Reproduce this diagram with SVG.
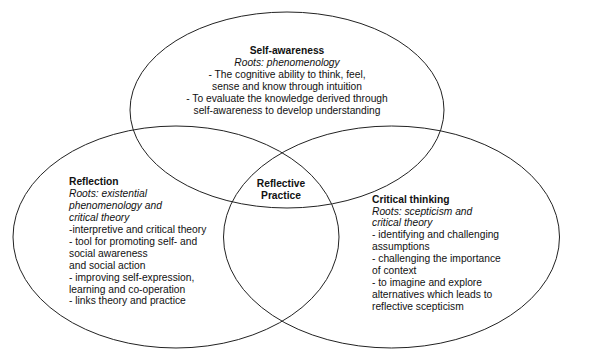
<svg xmlns="http://www.w3.org/2000/svg" width="596" height="358" viewBox="0 0 596 358">
<style>
.c{fill:none;stroke:#222;stroke-width:1}
text{font-family:"Liberation Sans",Arial,sans-serif;font-size:10.25px;fill:#111}
.b{font-weight:bold}
.i{font-style:italic}
.m{text-anchor:middle}
</style>
<rect width="596" height="358" fill="#fff"/>
<g id="self-awareness">
<ellipse class="c" cx="287" cy="110" rx="157" ry="98"/>
<text class="m" x="287" y="54"><tspan class="b">Self-awareness</tspan><tspan class="i" x="287" y="66">Roots: phenomenology</tspan><tspan x="287" y="78">- The cognitive ability to think, feel,</tspan><tspan x="287" y="90">sense and know through intuition</tspan><tspan x="287" y="102">- To evaluate the knowledge derived through</tspan><tspan x="287" y="114">self-awareness to develop understanding</tspan></text>
</g>
<g id="reflection">
<ellipse class="c" cx="176" cy="237" rx="163" ry="111"/>
<text x="69" y="185"><tspan class="b">Reflection</tspan><tspan class="i" x="69" y="197">Roots: existential</tspan><tspan class="i" x="69" y="209">phenomenology and</tspan><tspan class="i" x="69" y="221">critical theory</tspan><tspan x="69" y="233">-interpretive and critical theory</tspan><tspan x="69" y="245">- tool for promoting self- and</tspan><tspan x="69" y="257">social awareness</tspan><tspan x="69" y="269">and social action</tspan><tspan x="69" y="281">- improving self-expression,</tspan><tspan x="69" y="293">learning and co-operation</tspan><tspan x="69" y="304">- links theory and practice</tspan></text>
</g>
<g id="critical-thinking">
<ellipse class="c" cx="391.5" cy="237" rx="168" ry="111"/>
<text x="372" y="203"><tspan class="b">Critical thinking</tspan><tspan class="i" x="372" y="215">Roots: scepticism and</tspan><tspan class="i" x="372" y="226">critical theory</tspan><tspan x="372" y="238">- identifying and challenging</tspan><tspan x="372" y="250">assumptions</tspan><tspan x="372" y="262">- challenging the importance</tspan><tspan x="372" y="274">of context</tspan><tspan x="372" y="286">- to imagine and explore</tspan><tspan x="372" y="298">alternatives which leads to</tspan><tspan x="372" y="310">reflective scepticism</tspan></text>
</g>
<g id="reflective-practice">
<text class="m b" x="281" y="187">Reflective<tspan x="281" y="199">Practice</tspan></text>
</g>
<g id="connectors"></g>
</svg>
